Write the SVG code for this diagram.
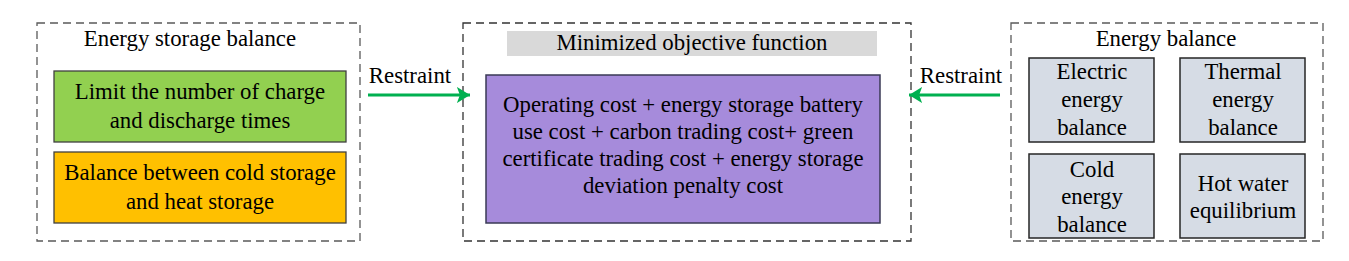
<svg xmlns="http://www.w3.org/2000/svg" width="1349" height="261" viewBox="0 0 1349 261" font-family="Liberation Serif, serif" font-size="22.8">
<style>
.t{fill:#000;text-anchor:middle}
.dash{fill:none;stroke:#595959;stroke-width:1.3;stroke-dasharray:8,5}
.box{stroke:#404040;stroke-width:1.3}
.bal{fill:#D6DCE5;stroke:#262626;stroke-width:1.5}
.arr{stroke:#00B050;stroke-width:3;fill:none;marker-end:url(#ah)}
</style>
<defs>
<marker id="ah" viewBox="0 0 13 16" refX="13" refY="8" markerWidth="4.4" markerHeight="5.4" orient="auto" markerUnits="strokeWidth">
<path d="M0,0 L13,8 L0,16 L3,8 z" fill="#00B050"/>
</marker>
</defs>
<rect width="1349" height="261" fill="#fff"/>
<g id="storage">
<rect class="dash" x="37" y="23" width="323" height="218"/>
<text class="t" x="190" y="46">Energy storage balance</text>
</g>
<g id="charge-limit">
<rect class="box" x="54" y="71" width="292" height="71" fill="#92D050"/>
<text class="t" x="200" y="99">Limit the number of charge</text>
<text class="t" x="200" y="128">and discharge times</text>
</g>
<g id="cold-heat">
<rect class="box" x="54" y="152" width="292" height="71" fill="#FFC000"/>
<text class="t" x="200" y="180">Balance between cold storage</text>
<text class="t" x="200" y="209">and heat storage</text>
</g>
<g id="objective">
<rect class="dash" x="463" y="23" width="448" height="218" style="stroke:#333"/>
<rect x="507" y="31" width="370" height="25" fill="#D9D9D9"/>
<text class="t" x="692" y="50">Minimized objective function</text>
</g>
<g id="cost">
<rect x="486" y="75" width="394" height="148" fill="#A68BDB" stroke="#3A3A55" stroke-width="1.5"/>
<text class="t" x="683" y="112">Operating cost + energy storage battery</text>
<text class="t" x="683" y="139">use cost + carbon trading cost+ green</text>
<text class="t" x="683" y="166">certificate trading cost + energy storage</text>
<text class="t" x="683" y="193">deviation penalty cost</text>
</g>
<g id="energy">
<rect class="dash" x="1011" y="23" width="312" height="218"/>
<text class="t" x="1166" y="46">Energy balance</text>
</g>
<g id="electric">
<rect class="bal" x="1029" y="58" width="125" height="84"/>
<text class="t" x="1092" y="79">Electric</text>
<text class="t" x="1092" y="107">energy</text>
<text class="t" x="1092" y="135">balance</text>
</g>
<g id="thermal">
<rect class="bal" x="1180" y="58" width="125" height="84"/>
<text class="t" x="1243" y="79">Thermal</text>
<text class="t" x="1243" y="107">energy</text>
<text class="t" x="1243" y="135">balance</text>
</g>
<g id="cold">
<rect class="bal" x="1029" y="154" width="125" height="84"/>
<text class="t" x="1092" y="177">Cold</text>
<text class="t" x="1092" y="204">energy</text>
<text class="t" x="1092" y="232">balance</text>
</g>
<g id="hotwater">
<rect class="bal" x="1180" y="154" width="125" height="84"/>
<text class="t" x="1243" y="191">Hot water</text>
<text class="t" x="1243" y="218">equilibrium</text>
</g>
<g id="connectors">
<line class="arr" x1="368" y1="95" x2="470" y2="95"/>
<text class="t" x="410" y="83">Restraint</text>
<line class="arr" x1="1000" y1="95" x2="909" y2="95"/>
<text class="t" x="961" y="83">Restraint</text>
</g>
</svg>
